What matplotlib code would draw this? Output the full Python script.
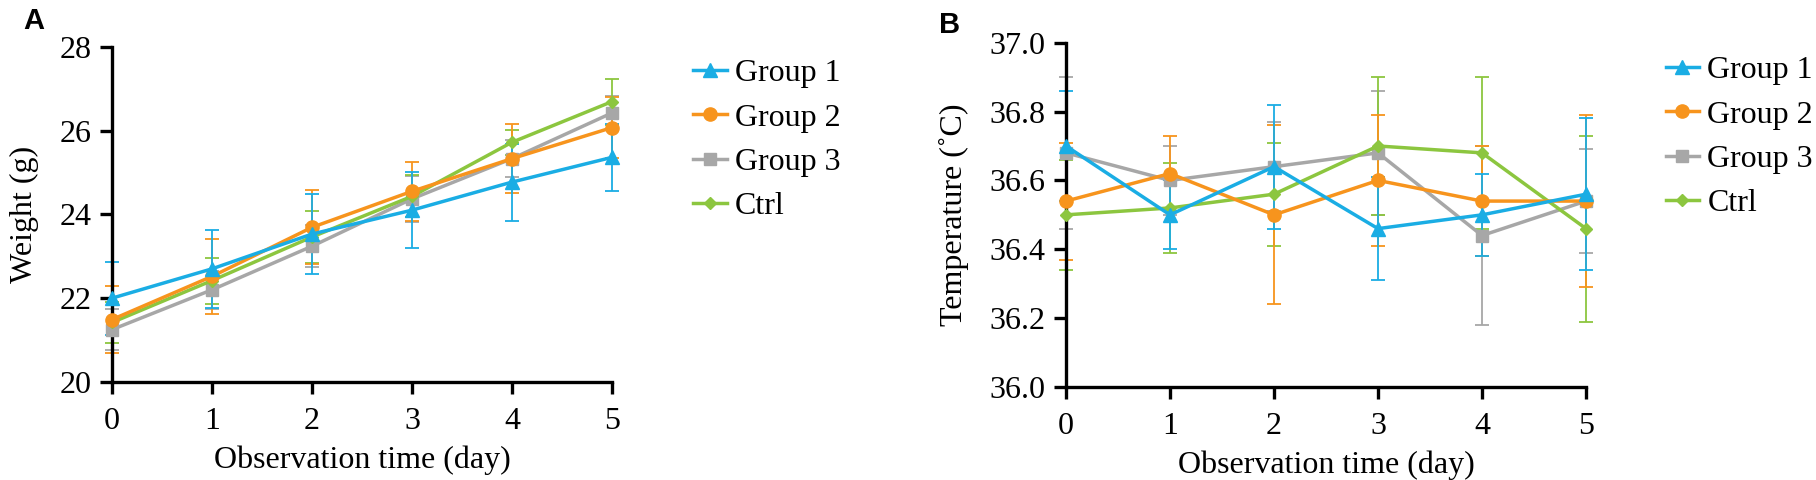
import matplotlib
matplotlib.use("Agg")
import matplotlib.pyplot as plt

days = [0, 1, 2, 3, 4, 5]
groups = ["Group 1", "Group 2", "Group 3", "Ctrl"]

# weight (g), mean and SD per day
weight_g1 = [22.0, 22.70, 23.53, 24.10, 24.77, 25.36]
weight_g1_sd = [0.87, 0.93, 0.95, 0.90, 0.92, 0.80]
weight_g2 = [21.49, 22.52, 23.69, 24.55, 25.33, 26.07]
weight_g2_sd = [0.80, 0.90, 0.88, 0.70, 0.83, 0.72]
weight_g3 = [21.25, 22.20, 23.24, 24.37, 25.33, 26.42]
weight_g3_sd = [0.48, 0.45, 0.50, 0.55, 0.45, 0.40]
weight_ctrl = [21.42, 22.42, 23.46, 24.43, 25.72, 26.69]
weight_ctrl_sd = [0.50, 0.55, 0.62, 0.50, 0.30, 0.55]

# temperature (C), mean and SD per day
temp_g1 = [36.70, 36.50, 36.64, 36.46, 36.50, 36.56]
temp_g1_sd = [0.16, 0.10, 0.18, 0.15, 0.12, 0.22]
temp_g2 = [36.54, 36.62, 36.50, 36.60, 36.54, 36.54]
temp_g2_sd = [0.17, 0.11, 0.26, 0.19, 0.16, 0.25]
temp_g3 = [36.68, 36.60, 36.64, 36.68, 36.44, 36.54]
temp_g3_sd = [0.22, 0.10, 0.13, 0.18, 0.26, 0.15]
temp_ctrl = [36.50, 36.52, 36.56, 36.70, 36.68, 36.46]
temp_ctrl_sd = [0.16, 0.13, 0.15, 0.20, 0.22, 0.27]

colors = {"Group 1": "#1aade4", "Group 2": "#f7941d", "Group 3": "#a7a7a7", "Ctrl": "#8cc63f"}
markers = {"Group 1": "^", "Group 2": "o", "Group 3": "s", "Ctrl": "D"}
msizes = {"Group 1": 9.5, "Group 2": 9.5, "Group 3": 9, "Ctrl": 6.5}

plt.rcParams["font.family"] = ["Liberation Serif", "DejaVu Serif"]
FS = 23

fig = plt.figure(figsize=(18.16, 4.8), dpi=100)
axA = fig.add_axes([112 / 1816, 1 - 382 / 480, 500 / 1816, (382 - 46.7) / 480])
axB = fig.add_axes([1066 / 1816, 1 - 387 / 480, 520 / 1816, (387 - 42.7) / 480])

weight = {"Group 1": (weight_g1, weight_g1_sd), "Group 2": (weight_g2, weight_g2_sd),
          "Group 3": (weight_g3, weight_g3_sd), "Ctrl": (weight_ctrl, weight_ctrl_sd)}
temp = {"Group 1": (temp_g1, temp_g1_sd), "Group 2": (temp_g2, temp_g2_sd),
        "Group 3": (temp_g3, temp_g3_sd), "Ctrl": (temp_ctrl, temp_ctrl_sd)}

draw_order = ["Group 3", "Ctrl", "Group 2", "Group 1"]


def panel(ax, data, ylim, yticks, ylabel, fmt, leg_xy):
    handles = {}
    for g in draw_order:
        m, sd = data[g]
        ax.errorbar(days, m, yerr=sd, fmt="none", ecolor=colors[g], elinewidth=1.3,
                    capsize=4.7, capthick=1.3, clip_on=False, zorder=2)
        ln, = ax.plot(days, m, color=colors[g], lw=2.5, marker=markers[g],
                      ms=msizes[g], clip_on=False, zorder=3)
        handles[g] = ln
    ax.set_xlim(0, 5)
    ax.set_ylim(*ylim)
    ax.set_xticks(days)
    ax.set_yticks(yticks)
    ax.set_yticklabels([fmt.format(v) for v in yticks])
    for s in ["top", "right"]:
        ax.spines[s].set_visible(False)
    for s in ["left", "bottom"]:
        ax.spines[s].set_linewidth(2.4)
    ax.tick_params(width=2.4, length=8.5, labelsize=FS)
    ax.tick_params(axis="x", pad=9.5)
    ax.tick_params(axis="y", pad=6)
    ax.set_xlabel("Observation time (day)", fontsize=FS, labelpad=7)
    ax.set_ylabel(ylabel, fontsize=FS, labelpad=15)
    ax.legend([handles[g] for g in groups], groups, loc="upper left",
              bbox_to_anchor=leg_xy, frameon=False, fontsize=FS,
              handlelength=1.06, handletextpad=0.25, labelspacing=0.47,
              borderaxespad=0, borderpad=0)


panel(axA, weight, (20, 28), [20, 22, 24, 26, 28], "Weight (g)", "{:d}", (1.162, 0.964))
panel(axB, temp, (36.0, 37.0), [36.0, 36.2, 36.4, 36.6, 36.8, 37.0],
      "Temperature (\u02daC)", "{:.1f}", (1.153, 0.962))

fig.text(34 / 1816, 1 - 21 / 480, "A", fontsize=21, fontweight="bold",
         family="Liberation Sans", ha="center", va="center")
fig.text(950 / 1816, 1 - 25 / 480, "B", fontsize=21, fontweight="bold",
         family="Liberation Sans", ha="center", va="center")

fig.savefig("out.png", dpi=100)
